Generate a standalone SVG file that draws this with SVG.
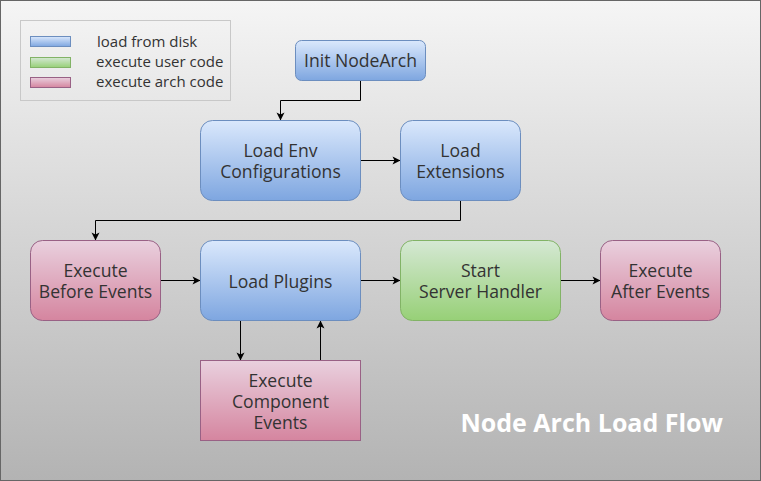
<svg xmlns="http://www.w3.org/2000/svg" width="761" height="481" viewBox="0 0 761 481">
<defs>
<linearGradient id="bg" x1="0" y1="0" x2="0" y2="1"><stop offset="0" stop-color="#f5f5f5"/><stop offset="1" stop-color="#b3b3b3"/></linearGradient>
<linearGradient id="gBlue" x1="0" y1="0" x2="0" y2="1"><stop offset="0" stop-color="#dae8fc"/><stop offset="1" stop-color="#7ea6e0"/></linearGradient>
<linearGradient id="gGreen" x1="0" y1="0" x2="0" y2="1"><stop offset="0" stop-color="#d5e8d4"/><stop offset="1" stop-color="#97d077"/></linearGradient>
<linearGradient id="gPink" x1="0" y1="0" x2="0" y2="1"><stop offset="0" stop-color="#e9d0de"/><stop offset="1" stop-color="#d5859f"/></linearGradient>
<marker id="arr" viewBox="0 0 10 10" refX="9" refY="5" markerWidth="10" markerHeight="10" markerUnits="userSpaceOnUse" orient="auto">
<path d="M1,1 L9,5 L1,9 L3,5 z" fill="#000"/>
</marker>
</defs>
<style>
.blue{fill:url(#gBlue);stroke:#6c8ebf;stroke-width:1}
.green{fill:url(#gGreen);stroke:#82b366;stroke-width:1}
.pink{fill:url(#gPink);stroke:#996185;stroke-width:1}
.t{font-family:"Open Sans","Noto Sans",sans-serif;font-size:17.6px;fill:#333333;text-anchor:middle}
.lg{font-family:"Open Sans","Noto Sans",sans-serif;font-size:15px;fill:#333333}
.title{font-family:"Open Sans","Noto Sans",sans-serif;font-size:25px;font-weight:bold;fill:#ffffff;text-anchor:end}
.c{fill:none;stroke:#000;stroke-width:1;marker-end:url(#arr)}
</style>
<rect x="0.5" y="0.5" width="760" height="480" fill="url(#bg)" stroke="#666666"/>
<g id="legend">
<rect x="20.5" y="20.5" width="210" height="80" fill="none" stroke="#c8c8c8"/>
<rect x="30.5" y="36.5" width="40" height="10" class="blue"/>
<rect x="30.5" y="57.5" width="40" height="10" class="green"/>
<rect x="30.5" y="77.5" width="40" height="10" class="pink"/>
<text class="lg" x="97" y="47">load from disk</text>
<text class="lg" x="96" y="67">execute user code</text>
<text class="lg" x="96" y="87">execute arch code</text>
</g>
<g id="connectors">
<path class="c" d="M360.5,80.5 V100.5 H280.5 V120.5"/>
<path class="c" d="M360.5,160.5 H400.5"/>
<path class="c" d="M460.5,200.5 V220.5 H95.5 V240.5"/>
<path class="c" d="M160.5,280.5 H200.5"/>
<path class="c" d="M360.5,280.5 H400.5"/>
<path class="c" d="M560.5,280.5 H600.5"/>
<path class="c" d="M240.5,320.5 V360.5"/>
<path class="c" d="M320.5,360.5 V320.5"/>
</g>
<g id="init"><rect x="295.5" y="40.5" width="130" height="40" rx="6" class="blue"/><text class="t" x="360.5" y="67">Init NodeArch</text></g>
<g id="loadEnv"><rect x="200.5" y="120.5" width="160" height="80" rx="12" class="blue"/><text class="t" x="280.5" y="157">Load Env</text><text class="t" x="280.5" y="178">Configurations</text></g>
<g id="loadExt"><rect x="400.5" y="120.5" width="120" height="80" rx="12" class="blue"/><text class="t" x="460.5" y="157">Load</text><text class="t" x="460.5" y="178">Extensions</text></g>
<g id="execBefore"><rect x="30.5" y="240.5" width="130" height="80" rx="12" class="pink"/><text class="t" x="95.5" y="277">Execute</text><text class="t" x="95.5" y="298">Before Events</text></g>
<g id="loadPlugins"><rect x="200.5" y="240.5" width="160" height="80" rx="12" class="blue"/><text class="t" x="280.5" y="288">Load Plugins</text></g>
<g id="startServer"><rect x="400.5" y="240.5" width="160" height="80" rx="12" class="green"/><text class="t" x="480.5" y="277">Start</text><text class="t" x="480.5" y="298">Server Handler</text></g>
<g id="execAfter"><rect x="600.5" y="240.5" width="120" height="80" rx="12" class="pink"/><text class="t" x="660.5" y="277">Execute</text><text class="t" x="660.5" y="298">After Events</text></g>
<g id="execComponent"><rect x="200.5" y="360.5" width="160" height="80" class="pink"/><text class="t" x="280.5" y="387">Execute</text><text class="t" x="280.5" y="408">Component</text><text class="t" x="280.5" y="429">Events</text></g>
<text class="title" x="723" y="432">Node Arch Load Flow</text>
</svg>
